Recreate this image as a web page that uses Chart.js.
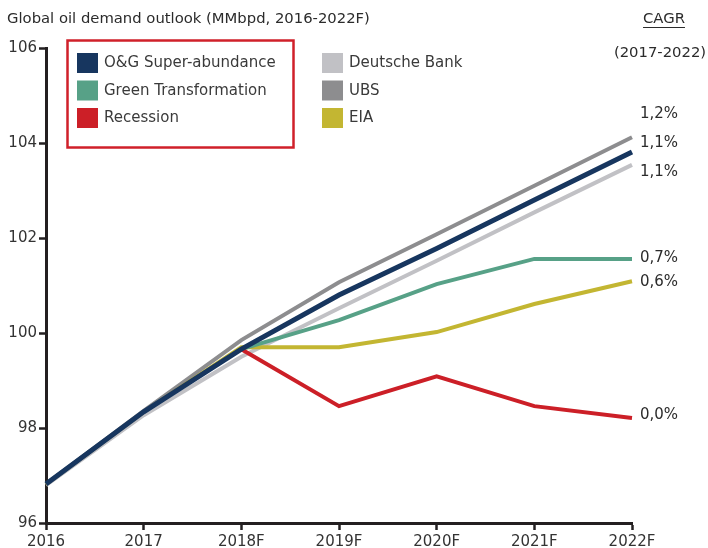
<!DOCTYPE html>
<html>
<head>
<meta charset="utf-8">
<title>Global oil demand outlook</title>
<script src="https://cdn.jsdelivr.net/npm/chart.js@4/dist/chart.umd.min.js"></script>
<style>
  body { margin: 0; background: #fff; }
  #caja { position: relative; width: 708px; height: 548px; }
</style>
</head>
<body>
<div id="caja"><canvas id="demanda" width="708" height="548"></canvas></div>
<script>
// años del eje x
var anios = ['2016', '2017', '2018F', '2019F', '2020F', '2021F', '2022F'];

// escenarios y previsiones (MMbpd)
var og_super = [96.82, 98.34, 99.66, 100.80, 101.78, 102.80, 103.81];
var verde = [null, null, 99.66, 100.27, 101.03, 101.56, 101.56];
var recesion = [null, null, 99.66, 98.46, 99.09, 98.46, 98.21];
var deutsche = [96.80, 98.27, 99.50, 100.52, 101.52, 102.54, 103.54];
var ubs = [96.82, 98.36, 99.85, 101.07, 102.08, 103.10, 104.12];
var eia = [96.82, 98.34, 99.70, 99.70, 100.02, 100.61, 101.09];

var nombres = ['O&G Super-abundance', 'Green Transformation', 'Recession', 'Deutsche Bank', 'UBS', 'EIA'];
var cagr = ['1,1%', '0,7%', '0,0%', '1,1%', '1,2%', '0,6%'];
var colores = ['#17365f', '#57a187', '#cc1f27', '#c1c1c5', '#8d8d8f', '#c3b632'];

var fuente = '"DejaVu Sans", Verdana, sans-serif';
var tinta = '#231f20';

// desplazamiento vertical de cada etiqueta CAGR respecto al final de su linea
var ajuste_cagr = [-9, -1, -3, 7, -23, 1];

function serie(i, datos, orden, grosor) {
	return {
		label: nombres[i],
		data: datos,
		borderColor: colores[i],
		backgroundColor: colores[i],
		borderWidth: grosor,
		pointRadius: 0,
		tension: 0,
		spanGaps: false,
		order: orden
	};
}

// leyenda en dos columnas, la primera dentro de un recuadro rojo
var leyenda = {
	id: 'leyenda',
	afterDraw: function (chart) {
		var ctx = chart.ctx;
		ctx.save();
		ctx.strokeStyle = '#d0202a';
		ctx.lineWidth = 2.5;
		ctx.strokeRect(67.5, 40.5, 226, 107);
		ctx.font = '15px ' + fuente;
		ctx.textBaseline = 'middle';
		ctx.textAlign = 'left';
		chart.data.datasets.forEach(function (ds, i) {
			var col = i < 3 ? 0 : 1;
			var fila = i % 3;
			var x = col === 0 ? 77 : 322;
			var y = 53 + fila * 27.5;
			ctx.fillStyle = ds.borderColor;
			ctx.fillRect(x, y, 21, 20);
			ctx.fillStyle = '#3a3a3a';
			ctx.fillText(ds.label, x + 27, y + 10.5);
		});
		ctx.restore();
	}
};

// titulo y etiquetas de crecimiento a la derecha
var textos = {
	id: 'textos',
	afterDraw: function (chart) {
		var ctx = chart.ctx;
		var ey = chart.scales.y;
		ctx.save();
		ctx.fillStyle = '#2b2b2b';
		ctx.font = '14.8px ' + fuente;
		ctx.textBaseline = 'middle';
		ctx.textAlign = 'left';
		ctx.fillText('Global oil demand outlook (MMbpd, 2016-2022F)', 7, 19);

		ctx.textAlign = 'center';
		ctx.fillText('CAGR', 664, 19);
		var w = ctx.measureText('CAGR').width;
		ctx.fillRect(664 - w / 2, 27, w, 1);
		ctx.fillText('(2017-2022)', 660, 53);

		ctx.textAlign = 'left';
		ctx.font = '15px ' + fuente;
		chart.data.datasets.forEach(function (ds, i) {
			var ultimo = ds.data[ds.data.length - 1];
			ctx.fillText(cagr[i], 640, ey.getPixelForValue(ultimo) + ajuste_cagr[i]);
		});
		ctx.restore();
	}
};

var configuracion = {
	type: 'line',
	data: {
		labels: anios,
		datasets: [
			serie(0, og_super, 0, 5),
			serie(1, verde, 2, 4),
			serie(2, recesion, 1, 4),
			serie(3, deutsche, 5, 4),
			serie(4, ubs, 4, 4),
			serie(5, eia, 3, 4)
		]
	},
	options: {
		responsive: false,
		animation: false,
		layout: { padding: { top: 48, right: 76, left: 0, bottom: 0 } },
		plugins: {
			legend: { display: false },
			tooltip: { enabled: false }
		},
		scales: {
			x: {
				offset: false,
				border: { color: tinta, width: 3 },
				grid: { drawOnChartArea: false, drawTicks: true, tickLength: 7, tickWidth: 2.5, tickColor: tinta },
				ticks: { color: '#333', font: { family: fuente, size: 15 }, padding: 3, maxRotation: 0, autoSkip: false },
				afterFit: function (s) { s.height = 25; }
			},
			y: {
				min: 96,
				max: 106,
				border: { color: tinta, width: 3 },
				grid: { drawOnChartArea: false, drawTicks: true, tickLength: 7, tickWidth: 2.5, tickColor: tinta },
				ticks: { stepSize: 2, color: '#333', font: { family: fuente, size: 15 }, padding: 2 },
				afterFit: function (s) { s.width = 46; }
			}
		}
	},
	plugins: [leyenda, textos]
};

var ctx = document.getElementById('demanda').getContext('2d');
window.mi_grafico = new Chart(ctx, configuracion);
</script>
</body>
</html>
